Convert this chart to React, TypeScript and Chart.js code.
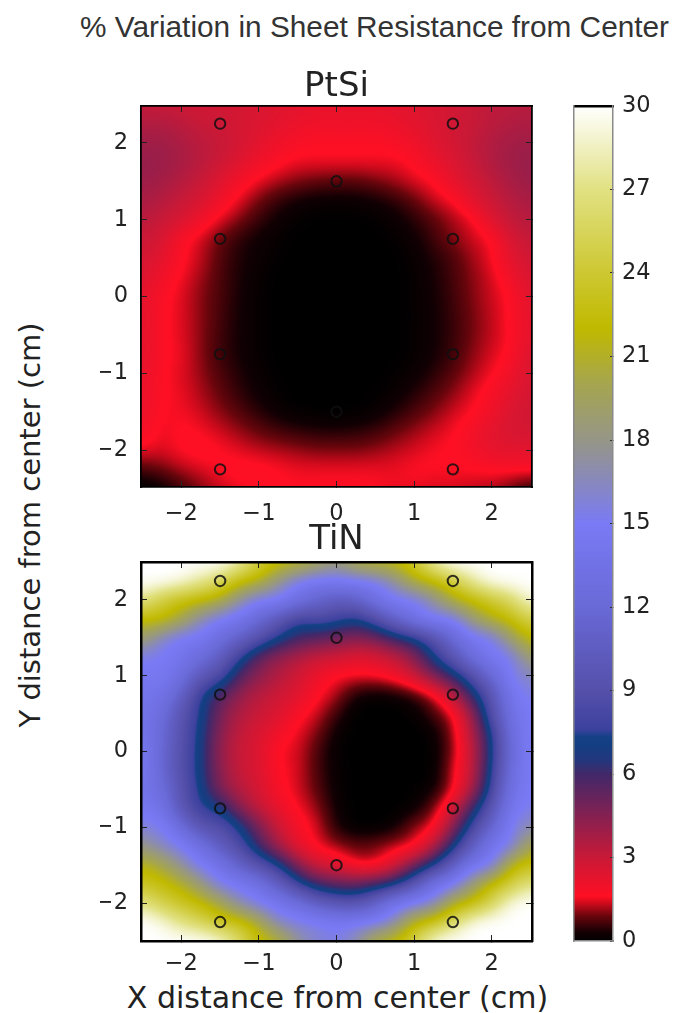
import React, { useEffect, useRef } from "react";
import { Chart, registerables } from "chart.js";

Chart.register(...registerables);

const gridAxis = [-2.5, -2.25, -2, -1.75, -1.5, -1.25, -1, -0.75, -0.5, -0.25, 0, 0.25, 0.5, 0.75, 1, 1.25, 1.5, 1.75, 2, 2.25, 2.5];

// rows run from y = +2.5 (first) to y = -2.5 (last), columns from x = -2.5 to x = +2.5
const ptsiValues = [
  [3.1, 3.0, 2.9, 2.8, 2.8, 2.7, 2.6, 2.4, 2.3, 2.2, 2.2, 2.2, 2.2, 2.3, 2.4, 2.6, 2.8, 3.0, 3.2, 3.3, 3.4],
  [3.5, 3.5, 3.3, 3.0, 2.9, 2.7, 2.5, 2.3, 2.1, 2.0, 2.0, 2.0, 2.0, 2.1, 2.3, 2.5, 2.8, 3.0, 3.3, 3.5, 3.6],
  [3.9, 3.9, 3.6, 3.3, 3.0, 2.7, 2.3, 2.0, 1.8, 1.7, 1.7, 1.7, 1.7, 1.8, 2.0, 2.4, 2.7, 3.1, 3.5, 3.8, 3.9],
  [4.1, 4.0, 3.7, 3.3, 2.9, 2.4, 2.0, 1.7, 1.5, 1.5, 1.5, 1.5, 1.5, 1.5, 1.7, 2.1, 2.5, 3.0, 3.5, 3.9, 4.1],
  [4.0, 3.8, 3.4, 3.0, 2.4, 1.9, 1.5, 1.2, 1.0, 0.85, 0.8, 0.8, 0.95, 1.15, 1.4, 1.65, 2.2, 2.7, 3.2, 3.7, 4.0],
  [3.7, 3.4, 3.0, 2.6, 2.0, 1.45, 0.95, 0.55, 0.3, 0.2, 0.18, 0.2, 0.3, 0.5, 0.85, 1.3, 1.6, 2.3, 2.9, 3.4, 3.7],
  [3.3, 3.0, 2.6, 2.0, 1.45, 1.0, 0.55, 0.25, 0.08, 0.02, 0, 0.02, 0.07, 0.2, 0.45, 0.8, 1.2, 1.55, 2.4, 3.1, 3.4],
  [3.0, 2.6, 1.8, 1.4, 0.9, 0.5, 0.25, 0.1, 0, 0, 0, 0, 0, 0.08, 0.25, 0.6, 1.0, 1.35, 1.65, 2.6, 3.1],
  [2.7, 2.3, 1.7, 1.3, 0.75, 0.4, 0.2, 0.05, 0, 0, 0, 0, 0, 0, 0.15, 0.4, 0.7, 1.15, 1.55, 2.3, 2.8],
  [2.5, 1.95, 1.55, 1.15, 0.7, 0.35, 0.12, 0, 0, 0, 0, 0, 0, 0, 0.1, 0.33, 0.65, 1.05, 1.4, 2.0, 2.6],
  [2.3, 1.75, 1.45, 1.05, 0.67, 0.33, 0.1, 0, 0, 0, 0, 0, 0, 0, 0.1, 0.3, 0.6, 1.0, 1.35, 1.7, 2.4],
  [2.3, 1.7, 1.45, 1.05, 0.65, 0.3, 0.1, 0, 0, 0, 0, 0, 0, 0, 0.08, 0.28, 0.55, 0.95, 1.3, 1.7, 2.3],
  [2.3, 1.7, 1.45, 1.05, 0.6, 0.3, 0.1, 0, 0, 0, 0, 0, 0, 0, 0.1, 0.28, 0.55, 0.95, 1.3, 1.65, 2.3],
  [2.3, 1.7, 1.5, 1.05, 0.6, 0.3, 0.1, 0, 0, 0, 0, 0, 0, 0, 0.1, 0.3, 0.6, 1.05, 1.4, 1.75, 2.5],
  [2.2, 1.65, 1.45, 1.1, 0.7, 0.4, 0.15, 0.02, 0, 0, 0, 0, 0, 0.07, 0.2, 0.45, 0.8, 1.2, 1.55, 2.0, 2.6],
  [2.1, 1.65, 1.5, 1.2, 0.85, 0.5, 0.25, 0.07, 0, 0, 0, 0, 0.05, 0.15, 0.4, 0.7, 1.05, 1.45, 1.8, 2.3, 2.7],
  [2.1, 1.6, 1.55, 1.35, 1.05, 0.75, 0.45, 0.2, 0.07, 0.02, 0, 0.05, 0.15, 0.4, 0.7, 1.0, 1.35, 1.6, 2.0, 2.5, 2.8],
  [1.9, 1.5, 1.65, 1.55, 1.35, 1.1, 0.85, 0.65, 0.5, 0.42, 0.4, 0.45, 0.6, 0.85, 1.1, 1.35, 1.55, 1.9, 2.3, 2.6, 2.7],
  [1.5, 1.4, 1.6, 1.7, 1.6, 1.45, 1.3, 1.2, 1.1, 1.0, 1.0, 1.0, 1.1, 1.25, 1.4, 1.55, 1.65, 1.9, 2.2, 2.3, 2.3],
  [0.7, 0.9, 1.2, 1.4, 1.6, 1.7, 1.7, 1.6, 1.5, 1.5, 1.5, 1.5, 1.5, 1.5, 1.6, 1.6, 1.6, 1.6, 1.7, 1.7, 1.7],
  [0, 0.2, 0.6, 1.0, 1.3, 1.5, 1.6, 1.6, 1.6, 1.6, 1.6, 1.6, 1.6, 1.5, 1.5, 1.4, 1.4, 1.3, 1.2, 0.9, 0.5],
];

const tinValues = [
  [30, 30, 30, 30, 30, 28, 24.5, 22.5, 21.5, 20, 18.5, 20.5, 21.5, 22, 24, 28, 30, 30, 30, 30, 30],
  [30, 30, 29, 27.5, 25.5, 22.5, 21, 18, 15.5, 14.5, 14.5, 14.8, 15.5, 17.5, 20.5, 22.2, 24.5, 27.5, 29.5, 30, 30],
  [27, 24.5, 23, 22, 20.5, 17.5, 15.3, 14.8, 13, 11.5, 10.5, 11, 13, 14.8, 15.3, 17.5, 20.5, 22.3, 24, 26, 29],
  [22.3, 22, 20, 17, 15.2, 14, 12, 10, 8, 8.3, 7.8, 7.2, 8.7, 11, 13.2, 14.8, 15.3, 18.5, 21, 22.5, 25],
  [19, 16.5, 15, 14.5, 12.8, 11, 9, 7.2, 6, 5.5, 5, 4.6, 5, 6.2, 7.2, 9.3, 12, 14.5, 15.5, 19, 22],
  [15.5, 15, 14, 12.5, 10.5, 7.7, 5.5, 4.4, 3.7, 3.1, 2.9, 2.5, 2.7, 3.3, 4.6, 7, 9.5, 12.5, 14.5, 15.5, 19],
  [14.5, 14.5, 12.8, 10, 8.3, 5.7, 4.4, 3.5, 2.8, 2.1, 1.65, 1.55, 1.6, 2, 2.9, 4.6, 6.3, 8.8, 12, 15, 16.5],
  [14, 13.5, 11, 7.5, 5.8, 4.3, 3.4, 2.9, 2.4, 1.7, 1.2, 0.4, 0.2, 0.3, 0.7, 1.55, 3.5, 6.3, 9.5, 14, 15.5],
  [14, 12.5, 9.5, 7.2, 4.9, 3.6, 3, 2.5, 1.8, 1.35, 0.6, 0, 0, 0, 0.1, 0.7, 1.6, 4.3, 8.7, 13, 15],
  [14, 12, 9.2, 6.9, 4.5, 3.2, 2.6, 2, 1.5, 1, 0.2, 0, 0, 0, 0, 0.2, 1.2, 3.6, 7.3, 12.5, 15],
  [14.5, 11.8, 9, 6.8, 4.2, 3.05, 2.5, 1.6, 1.4, 0.7, 0.1, 0, 0, 0, 0, 0.1, 1.1, 3.2, 7, 12, 15],
  [14.5, 11.8, 9, 6.8, 4.4, 3.1, 2.5, 1.7, 1.4, 0.7, 0.15, 0, 0, 0, 0, 0.05, 1.4, 3.3, 7.3, 12.5, 15],
  [14, 12.5, 9.3, 7.1, 4.8, 3.5, 2.7, 1.8, 1.4, 0.8, 0.15, 0, 0, 0, 0.05, 0.3, 1.5, 3.8, 8, 13, 15],
  [14.5, 13.5, 9.8, 7.7, 6.8, 4.6, 3.2, 2.2, 1.6, 1.1, 0.25, 0, 0, 0, 0.2, 1, 2.8, 6, 9.5, 14, 15.5],
  [16, 15, 12.5, 9.5, 8.8, 7, 4.8, 3, 1.9, 1.4, 0.45, 0.05, 0.05, 0.3, 1.1, 1.7, 4.5, 8, 11.5, 15, 17],
  [18, 16.5, 15, 13, 10.5, 8.5, 6, 4, 2.4, 1.6, 1.2, 0.9, 1, 1.35, 1.7, 3.5, 6.7, 10.5, 14, 15.8, 20],
  [21.5, 20, 17.5, 15, 13.5, 11, 9, 7.1, 4.6, 3, 2.5, 1.7, 1.7, 2.8, 4.8, 7.2, 10.5, 14, 15.5, 21, 23],
  [23.5, 22.5, 21, 18.5, 15.5, 14.5, 13, 10.5, 7.8, 6, 5.3, 5.2, 5.8, 7, 9.5, 13, 15, 18.5, 22, 24.5, 27],
  [27, 25, 23.5, 22, 20, 17, 15.3, 14, 12.5, 10.5, 9.5, 9.2, 11, 13.5, 15, 16.5, 20.5, 22.5, 25.5, 29, 30],
  [30, 29, 27, 25.5, 23.5, 22.5, 20, 16.5, 15.5, 15, 14.3, 14.5, 15, 17, 21, 23, 26, 29, 30, 30, 30],
  [30, 30, 30, 30, 29, 26, 22.5, 21, 17.5, 16, 15.5, 17, 20.5, 22, 25, 29, 30, 30, 30, 30, 30],
];

const probeX = [-1.5, 1.5, 0, -1.5, 1.5, -1.5, 1.5, 0, -1.5, 1.5];
const probeY = [2.25, 2.25, 1.5, 0.75, 0.75, -0.75, -0.75, -1.5, -2.25, -2.25];

const axisTicks = [-2, -1, 0, 1, 2];
const barTicks = [0, 3, 6, 9, 12, 15, 18, 21, 24, 27, 30];

const mapLevels = [0, 0.3, 0.9, 1.35, 1.6, 3, 5, 6, 6.5, 7, 7.35, 7.6, 9, 12, 15, 18, 20, 22, 24, 27, 30];
const mapColors = [
  [0, 0, 0], [18, 0, 3], [105, 5, 12], [205, 10, 28], [255, 15, 35], [200, 25, 55], [110, 35, 90], [65, 40, 105],
  [35, 55, 125], [20, 62, 130], [22, 65, 135], [60, 65, 158], [85, 80, 170], [105, 105, 215], [122, 122, 245],
  [150, 150, 135], [165, 165, 80], [192, 185, 0], [205, 200, 50], [225, 225, 130], [255, 255, 255],
];

const pageTitle = "% Variation in Sheet Resistance from Center";
const xLabel = "X distance from center (cm)";
const yLabel = "Y distance from center (cm)";

const INK = "#222";
const TICK_FONT = { family: "'DejaVu Sans'", size: 22.5 };

function colorFor(v: number) {
  const n = mapLevels.length;
  if (v <= mapLevels[0]) return mapColors[0];
  if (v >= mapLevels[n - 1]) return mapColors[n - 1];
  let i = 1;
  while (mapLevels[i] < v) i++;
  const t = (v - mapLevels[i - 1]) / (mapLevels[i] - mapLevels[i - 1]);
  const a = mapColors[i - 1];
  const b = mapColors[i];
  return [a[0] + (b[0] - a[0]) * t, a[1] + (b[1] - a[1]) * t, a[2] + (b[2] - a[2]) * t];
}

function cubic(p0: number, p1: number, p2: number, p3: number, t: number) {
  return p1 + 0.5 * t * (p2 - p0 + t * (2 * p0 - 5 * p1 + 4 * p2 - p3 + t * (3 * (p1 - p2) + p3 - p0)));
}

function sampleGrid(grid: number[][], x: number, y: number) {
  const last = gridAxis.length - 1;
  const step = gridAxis[1] - gridAxis[0];
  const fx = Math.max(0, Math.min(last, (x - gridAxis[0]) / step));
  const fy = Math.max(0, Math.min(last, (gridAxis[last] - y) / step));
  const ix = Math.min(last - 1, Math.floor(fx));
  const iy = Math.min(last - 1, Math.floor(fy));
  const cl = (i: number) => Math.max(0, Math.min(last, i));
  const rows = [-1, 0, 1, 2].map((d) => {
    const r = grid[cl(iy + d)];
    return cubic(r[cl(ix - 1)], r[ix], r[ix + 1], r[cl(ix + 2)], fx - ix);
  });
  return Math.max(0, Math.min(30, cubic(rows[0], rows[1], rows[2], rows[3], fy - iy)));
}

// soft resampling of the read-off grid, the way the original image is displayed
function softSample(grid: number[][], x: number, y: number) {
  const reach = 0.13;
  const weights = [0.25, 0.5, 0.25];
  let sum = 0;
  for (let a = 0; a < 3; a++) {
    for (let b = 0; b < 3; b++) {
      sum += weights[a] * weights[b] * sampleGrid(grid, x + (a - 1) * reach, y + (b - 1) * reach);
    }
  }
  return sum;
}

function paintArea(chart: any, valueAt: (x: number, y: number) => number) {
  const { left, top, right, bottom } = chart.chartArea;
  const w = Math.round(right - left);
  const h = Math.round(bottom - top);
  const off = document.createElement("canvas");
  off.width = w;
  off.height = h;
  const octx = off.getContext("2d")!;
  const img = octx.createImageData(w, h);
  const sx = chart.scales.x;
  const sy = chart.scales.y;
  for (let j = 0; j < h; j++) {
    const yv = sy.getValueForPixel(top + j + 0.5);
    for (let i = 0; i < w; i++) {
      const xv = sx.getValueForPixel(left + i + 0.5);
      const c = colorFor(valueAt(xv, yv));
      const k = (j * w + i) * 4;
      img.data[k] = c[0];
      img.data[k + 1] = c[1];
      img.data[k + 2] = c[2];
      img.data[k + 3] = 255;
    }
  }
  octx.putImageData(img, 0, 0);
  chart.ctx.drawImage(off, left, top, right - left, bottom - top);
}

const setTicks = (values: number[]) => (s: any) => {
  s.ticks = values.map((value) => ({ value }));
};
const minusLabel = (v: any) => String(v).replace("-", "\u2212");

function panelConfig(opts: {
  title: string;
  grid: number[][];
  xLimit: number;
  yLimit: number;
  bottomSpace: number;
  titlePad: { top: number; bottom: number };
  frame: number;
  labelPad: number;
}): any {
  const frameBorder = { display: true, color: "#000", width: opts.frame };
  const tickGrid = { drawOnChartArea: false, drawTicks: true, tickLength: -6, tickColor: INK, tickWidth: 1, color: INK };
  const xBase = { type: "linear", min: -opts.xLimit, max: opts.xLimit, afterBuildTicks: setTicks(axisTicks), border: frameBorder, grid: tickGrid };
  const yBase = { type: "linear", min: -opts.yLimit, max: opts.yLimit, afterBuildTicks: setTicks(axisTicks), border: frameBorder, grid: tickGrid };
  const hiddenTicks = { display: false };
  return {
    type: "scatter",
    data: {
      datasets: [
        {
          data: probeX.map((x, i) => ({ x, y: probeY[i] })),
          backgroundColor: "rgba(0,0,0,0)",
          borderColor: "rgba(15,15,15,0.85)",
          borderWidth: 2,
          pointRadius: 5.2,
          pointHoverRadius: 5.2,
        },
      ],
    },
    options: {
      animation: false,
      responsive: false,
      events: [],
      layout: { autoPadding: false, padding: { left: 0, right: 28, top: 0, bottom: 0 } },
      plugins: {
        legend: { display: false },
        tooltip: { enabled: false },
        title: {
          display: true,
          text: opts.title,
          fullSize: false,
          color: INK,
          font: { family: "'DejaVu Sans'", size: 34, weight: "normal", lineHeight: 1 },
          padding: opts.titlePad,
        },
      },
      scales: {
        x: {
          ...xBase,
          position: "bottom",
          ticks: { autoSkip: false, maxRotation: 0, color: INK, font: TICK_FONT, padding: opts.labelPad, callback: minusLabel },
          afterFit: (s: any) => {
            s.height = opts.bottomSpace;
          },
        },
        xTop: {
          ...xBase,
          position: "top",
          ticks: hiddenTicks,
          afterFit: (s: any) => {
            s.height = 0;
          },
        },
        y: {
          ...yBase,
          position: "left",
          ticks: { autoSkip: false, color: INK, font: TICK_FONT, padding: 19, callback: minusLabel },
          afterFit: (s: any) => {
            s.width = 41;
          },
        },
        yRight: {
          ...yBase,
          position: "right",
          ticks: hiddenTicks,
          afterFit: (s: any) => {
            s.width = 0;
          },
        },
      },
    },
    plugins: [
      {
        id: "valueField",
        beforeDraw: (chart: any) => paintArea(chart, (x, y) => softSample(opts.grid, x, y)),
      },
    ],
  };
}

function colorbarConfig(): any {
  const side = { display: true, color: "#8a8a8a", width: 1.5 };
  return {
    type: "scatter",
    data: { datasets: [{ data: [] }] },
    options: {
      animation: false,
      responsive: false,
      events: [],
      layout: { autoPadding: false, padding: { left: 9, right: 0, top: 16, bottom: 19 } },
      plugins: { legend: { display: false }, tooltip: { enabled: false } },
      scales: {
        x: {
          type: "linear",
          min: 0,
          max: 1,
          position: "bottom",
          afterBuildTicks: setTicks([]),
          ticks: { display: false },
          grid: { drawOnChartArea: false, drawTicks: false },
          border: side,
          afterFit: (s: any) => {
            s.height = 0;
          },
        },
        xTop: {
          type: "linear",
          min: 0,
          max: 1,
          position: "top",
          afterBuildTicks: setTicks([]),
          ticks: { display: false },
          grid: { drawOnChartArea: false, drawTicks: false },
          border: { display: true, color: "#000", width: 2.5 },
          afterFit: (s: any) => {
            s.height = 0;
          },
        },
        y: {
          type: "linear",
          min: 0,
          max: 30,
          position: "right",
          afterBuildTicks: setTicks(barTicks),
          ticks: { autoSkip: false, color: INK, font: TICK_FONT, padding: 12 },
          grid: { drawOnChartArea: false, drawTicks: true, tickLength: -3, tickColor: "#333", color: "#333" },
          border: side,
          afterFit: (s: any) => {
            s.width = 60;
            s.paddingTop = 0;
            s.paddingBottom = 0;
          },
        },
        yLeft: {
          type: "linear",
          min: 0,
          max: 30,
          position: "left",
          afterBuildTicks: setTicks([]),
          ticks: { display: false },
          grid: { drawOnChartArea: false, drawTicks: false },
          border: side,
          afterFit: (s: any) => {
            s.width = 0;
          },
        },
      },
    },
    plugins: [
      {
        id: "valueBar",
        beforeDraw: (chart: any) => paintArea(chart, (_x, y) => y),
      },
    ],
  };
}

function ChartCanvas({ config, style, width, height }: { config: () => any; style: React.CSSProperties; width: number; height: number }) {
  const ref = useRef<HTMLCanvasElement>(null);
  useEffect(() => {
    const chart = new Chart(ref.current!, config());
    return () => chart.destroy();
  }, []);
  return <canvas ref={ref} width={width} height={height} style={{ position: "absolute", display: "block", width, height, ...style }} />;
}

export default function App() {
  return (
    <div style={{ position: "absolute", left: 0, top: 0, width: 673, height: 1013, overflow: "hidden", background: "#fff", filter: "blur(0.6px)" }}>
      <div
        style={{
          position: "absolute",
          left: 80,
          top: 10,
          whiteSpace: "nowrap",
          font: "29.8px 'Liberation Sans'",
          lineHeight: "34px",
          color: "#333",
        }}
      >
        {pageTitle}
      </div>
      <div
        style={{
          position: "absolute",
          left: 30,
          top: 525,
          whiteSpace: "nowrap",
          font: "29px 'DejaVu Sans'",
          color: INK,
          transform: "translate(-50%, -50%) rotate(-90deg)",
        }}
      >
        {yLabel}
      </div>
      <div
        style={{
          position: "absolute",
          left: 337.5,
          top: 997,
          whiteSpace: "nowrap",
          font: "30px 'DejaVu Sans'",
          color: INK,
          transform: "translate(-50%, -50%)",
        }}
      >
        {xLabel}
      </div>
      <ChartCanvas
        width={460}
        height={470}
        style={{ left: 100, top: 60 }}
        config={() =>
          panelConfig({
            title: "PtSi",
            grid: ptsiValues,
            xLimit: 2.52,
            yLimit: 2.48,
            bottomSpace: 43,
            titlePad: { top: 10, bottom: 2 },
            frame: 1.8,
            labelPad: 20,
          })
        }
      />
      <ChartCanvas
        width={460}
        height={498}
        style={{ left: 100, top: 515 }}
        config={() =>
          panelConfig({
            title: "TiN",
            grid: tinValues,
            xLimit: 2.52,
            yLimit: 2.5,
            bottomSpace: 72,
            titlePad: { top: 8, bottom: 5 },
            frame: 2.5,
            labelPad: 16,
          })
        }
      />
      <ChartCanvas width={108} height={870} style={{ left: 565, top: 90 }} config={colorbarConfig} />
    </div>
  );
}
